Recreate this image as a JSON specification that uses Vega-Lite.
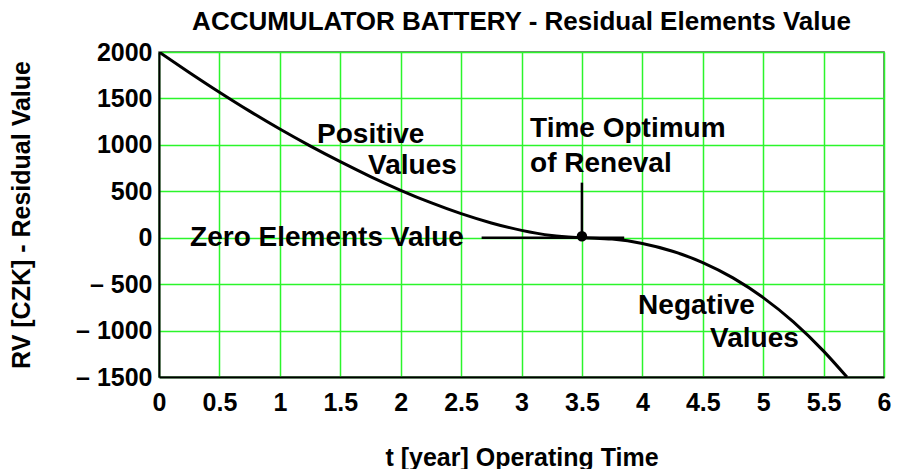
{
  "$schema": "https://vega.github.io/schema/vega-lite/v6.json",
  "width": 725,
  "height": 325,
  "autosize": "none",
  "padding": {"left": 159, "top": 52, "right": 15, "bottom": 92},
  "background": "white",
  "config": {
    "font": "Liberation Sans",
    "view": {"stroke": "#555555", "strokeWidth": 1.5},
    "title": {"font": "Liberation Sans", "fontWeight": "bold", "fontSize": 26, "color": "#000000"}
  },
  "title": {"text": "ACCUMULATOR BATTERY - Residual Elements Value", "offset": 5, "anchor": "middle"},
  "datasets": {
    "curve": [
      {"t": 0, "rv": 2000},
      {"t": 0.25, "rv": 1780},
      {"t": 0.5, "rv": 1567},
      {"t": 0.75, "rv": 1363},
      {"t": 1, "rv": 1170},
      {"t": 1.25, "rv": 989},
      {"t": 1.5, "rv": 819},
      {"t": 1.75, "rv": 659},
      {"t": 2, "rv": 511},
      {"t": 2.25, "rv": 377},
      {"t": 2.5, "rv": 259},
      {"t": 2.75, "rv": 159},
      {"t": 3, "rv": 79},
      {"t": 3.25, "rv": 24},
      {"t": 3.5, "rv": 0},
      {"t": 3.75, "rv": -15},
      {"t": 4, "rv": -62},
      {"t": 4.25, "rv": -146},
      {"t": 4.5, "rv": -268},
      {"t": 4.75, "rv": -433},
      {"t": 5, "rv": -645},
      {"t": 5.25, "rv": -906},
      {"t": 5.5, "rv": -1221},
      {"t": 5.693, "rv": -1500}
    ],
    "labels": [
      {"t": 1.308, "rv": 1023, "label": "Positive"},
      {"t": 1.73, "rv": 690, "label": "Values"},
      {"t": 0.257, "rv": -93, "label": "Zero Elements Value"},
      {"t": 3.071, "rv": 1087, "label": "Time Optimum"},
      {"t": 3.071, "rv": 711, "label": "of Reneval"},
      {"t": 3.965, "rv": -823, "label": "Negative"},
      {"t": 4.561, "rv": -1177, "label": "Values"}
    ]
  },
  "layer": [
    {
      "data": {"name": "curve"},
      "mark": {"type": "line", "color": "#000000", "strokeWidth": 3, "interpolate": "monotone", "clip": true},
      "encoding": {
        "x": {
          "field": "t", "type": "quantitative",
          "scale": {"domain": [0, 6], "nice": false, "zero": false},
          "axis": {
            "title": "t [year] Operating Time",
            "values": [0, 0.5, 1, 1.5, 2, 2.5, 3, 3.5, 4, 4.5, 5, 5.5, 6],
            "labelExpr": "datum.value == floor(datum.value) ? format(datum.value, 'd') : format(datum.value, '.1f')",
            "grid": true, "gridColor": "#2bf52b", "gridWidth": 1.5, "gridOpacity": 1,
            "ticks": false, "tickSize": 0,
            "domainColor": "#000000", "domainWidth": 2,
            "labelFont": "Liberation Sans", "labelFontWeight": "bold", "labelFontSize": 25, "labelColor": "#000000",
            "labelPadding": 13, "labelDx": 6, "labelFlush": false, "labelOverlap": false,
            "titleFont": "Liberation Sans", "titleFontWeight": "bold", "titleFontSize": 25, "titleColor": "#000000",
            "titlePadding": 30
          }
        },
        "y": {
          "field": "rv", "type": "quantitative",
          "scale": {"domain": [-1500, 2000], "nice": false, "zero": false},
          "axis": {
            "title": "RV [CZK] - Residual Value",
            "values": [-1500, -1000, -500, 0, 500, 1000, 1500, 2000],
            "labelExpr": "datum.value < 0 ? '\u2013 ' + format(-datum.value, 'd') : format(datum.value, 'd')",
            "grid": true, "gridColor": "#2bf52b", "gridWidth": 1.5, "gridOpacity": 1,
            "ticks": false, "tickSize": 0,
            "domainColor": "#000000", "domainWidth": 2,
            "labelFont": "Liberation Sans", "labelFontWeight": "bold", "labelFontSize": 25, "labelColor": "#000000",
            "labelPadding": 7, "labelDy": 2, "labelFlush": false, "labelOverlap": false,
            "titleFont": "Liberation Sans", "titleFontWeight": "bold", "titleFontSize": 25, "titleColor": "#000000",
            "titlePadding": 41
          }
        }
      }
    },
    {
      "data": {"values": [{"t": 2.67, "t2": 3.85, "rv": 0}]},
      "mark": {"type": "rule", "color": "#000000", "strokeWidth": 2.5},
      "encoding": {
        "x": {"field": "t", "type": "quantitative"},
        "x2": {"field": "t2"},
        "y": {"field": "rv", "type": "quantitative"}
      }
    },
    {
      "data": {"values": [{"t": 3.5, "rv": 0, "rv2": 593}]},
      "mark": {"type": "rule", "color": "#000000", "strokeWidth": 2.5},
      "encoding": {
        "x": {"field": "t", "type": "quantitative"},
        "y": {"field": "rv", "type": "quantitative"},
        "y2": {"field": "rv2"}
      }
    },
    {
      "data": {"values": [{"t": 3.5, "rv": 15}]},
      "mark": {"type": "point", "filled": true, "color": "#000000", "size": 110, "opacity": 1},
      "encoding": {
        "x": {"field": "t", "type": "quantitative"},
        "y": {"field": "rv", "type": "quantitative"}
      }
    },
    {
      "data": {"name": "labels"},
      "mark": {"type": "text", "align": "left", "baseline": "alphabetic", "font": "Liberation Sans", "fontWeight": "bold", "fontSize": 28, "color": "#000000"},
      "encoding": {
        "x": {"field": "t", "type": "quantitative"},
        "y": {"field": "rv", "type": "quantitative"},
        "text": {"field": "label", "type": "nominal"}
      }
    }
  ]
}
